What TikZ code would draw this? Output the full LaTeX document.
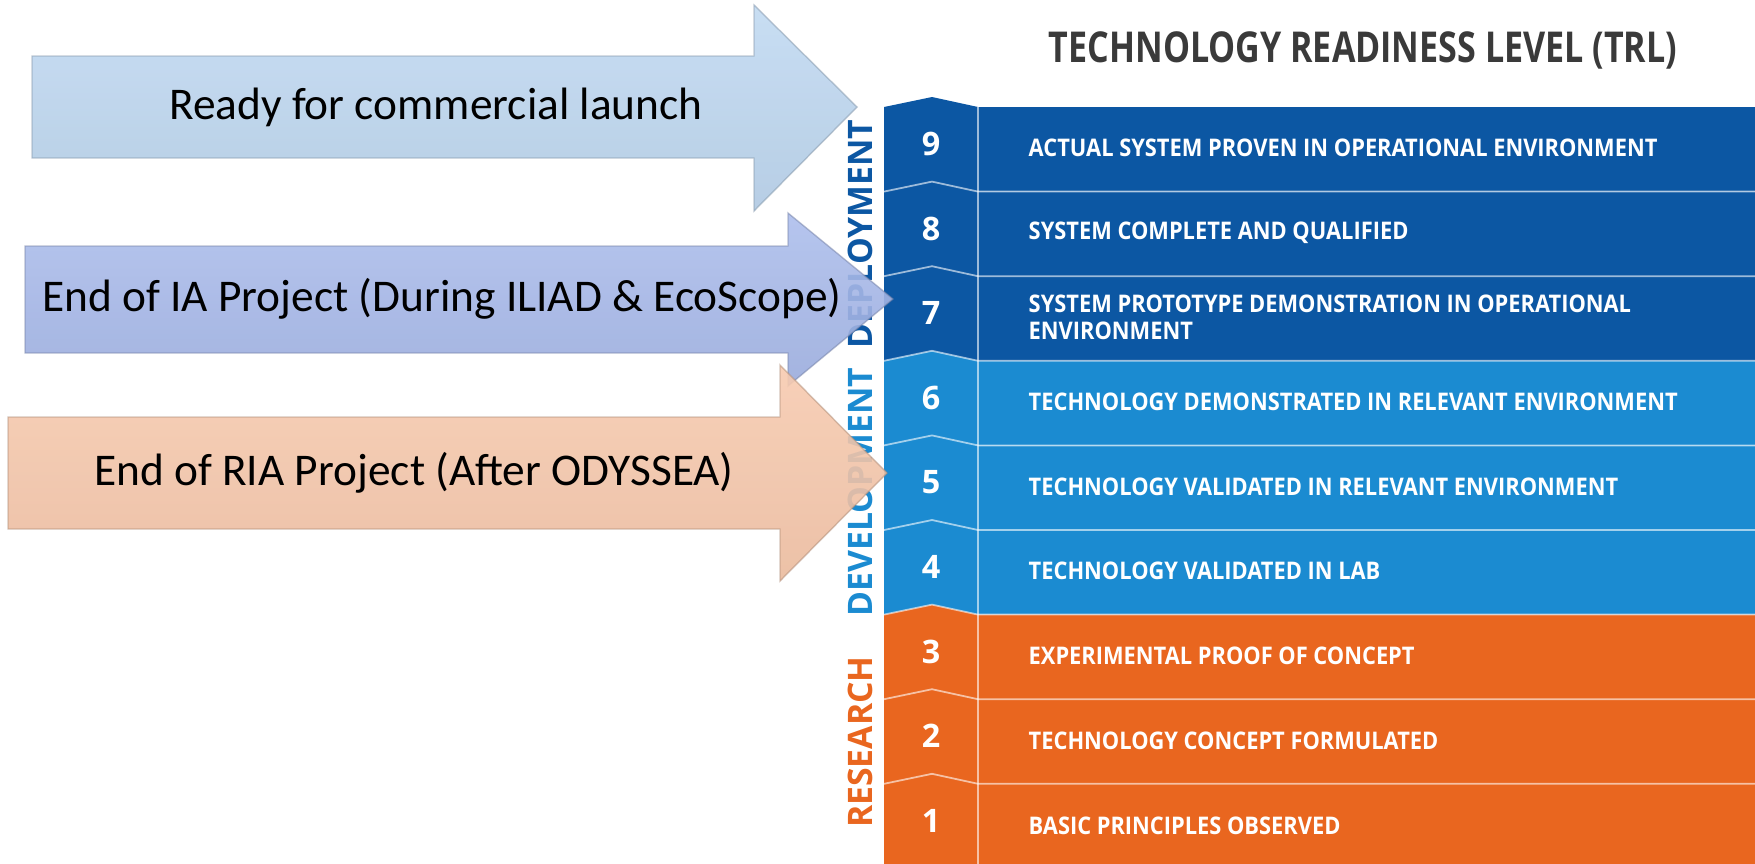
\documentclass[tikz,border=0pt]{standalone}
\usepackage{fontspec}
\setmainfont{Carlito}
\newfontfamily\trlfont{Open Sans}
\newfontfamily\trlcond{Open Sans}[FakeStretch=0.8]
\newfontfamily\trlrow{Open Sans}[FakeStretch=0.9]
\usetikzlibrary{positioning}
\definecolor{deploy}{RGB}{12,87,163}
\definecolor{develop}{RGB}{27,139,209}
\definecolor{research}{RGB}{233,102,31}
\definecolor{titlegray}{RGB}{58,58,58}
\definecolor{launchblue}{RGB}{186,213,240}
\definecolor{iablue}{RGB}{163,182,234}
\definecolor{riapeach}{RGB}{246,196,166}
\tikzset{
  num/.style={font=\trlfont\bfseries\fontsize{9.2}{10}\selectfont, text=white},
  lvl/.style={font=\trlrow\bfseries\fontsize{6.9}{7.7}\selectfont, text=white, anchor=west, align=left, inner sep=0pt},
  phase/.style={font=\trlfont\bfseries\fontsize{9.6}{10}\selectfont, rotate=90},
  sep/.style={white, opacity=0.6, line width=0.5pt},
  goal/.style={fill opacity=0.9, draw opacity=0.5, line width=0.4pt},
  goaltext/.style={font=\fontsize{12.9}{14}\selectfont, text=black},
}
\begin{document}
\begin{tikzpicture}[x=0.01cm, y=-0.01cm]
    \useasboundingbox (0,0) rectangle (1755,863);

    % bands, drawn top down so each chevron covers the row above
    \foreach \k/\c in {9/deploy,8/deploy,7/deploy,6/develop,5/develop,4/develop,3/research,2/research,1/research}{
      \pgfmathsetmacro\yt{107+(9-\k)*84.6}
      \pgfmathsetmacro\yb{\yt+84.6}
      \fill[\c] (884,\yt) -- (932,\yt-10) -- (978,\yt) -- (1755,\yt) -- (1755,\yb) -- (884,\yb) -- cycle;
    }
    \foreach \k in {1,...,8}{
      \pgfmathsetmacro\yt{107+(9-\k)*84.6}
      \draw[sep] (884,\yt) -- (932,\yt-10) -- (978,\yt) -- (1755,\yt);
    }
    \draw[sep] (978,107) -- (978,868);

    \node[titlegray, font=\trlcond\bfseries\fontsize{12.1}{13}\selectfont] (title) at (1363,50) {TECHNOLOGY READINESS LEVEL (TRL)};

    \node[num] (n9) at (931,144) {9};
    \node[num] (n8) at (931,229) {8};
    \node[num] (n7) at (931,313) {7};
    \node[num] (n6) at (931,398) {6};
    \node[num] (n5) at (931,482) {5};
    \node[num] (n4) at (931,567) {4};
    \node[num] (n3) at (931,652) {3};
    \node[num] (n2) at (931,736) {2};
    \node[num] (n1) at (931,821) {1};

    \node[lvl] (t9) at (1028,148) {ACTUAL SYSTEM PROVEN IN OPERATIONAL ENVIRONMENT};
    \node[lvl] (t8) at (1028,233) {SYSTEM COMPLETE AND QUALIFIED};
    \node[lvl] (t7) at (1028,317) {SYSTEM PROTOTYPE DEMONSTRATION IN OPERATIONAL\\ENVIRONMENT};
    \node[lvl] (t6) at (1028,402) {TECHNOLOGY DEMONSTRATED IN RELEVANT ENVIRONMENT};
    \node[lvl] (t5) at (1028,487) {TECHNOLOGY VALIDATED IN RELEVANT ENVIRONMENT};
    \node[lvl] (t4) at (1028,571) {TECHNOLOGY VALIDATED IN LAB};
    \node[lvl] (t3) at (1028,656) {EXPERIMENTAL PROOF OF CONCEPT};
    \node[lvl] (t2) at (1028,741) {TECHNOLOGY CONCEPT FORMULATED};
    \node[lvl] (t1) at (1028,826) {BASIC PRINCIPLES OBSERVED};

    \node[phase, deploy] (deployment) at (860,234) {DEPLOYMENT};
    \node[phase, develop] (development) at (860,492) {DEVELOPMENT};
    \node[phase, research] (researchlab) at (860,742) {RESEARCH};

    % project arrows
    \draw[goal, top color=launchblue!88!white, bottom color=launchblue!94!black, draw=launchblue!70!black]
      (32,56) -- (754,56) -- (754,5) -- (857,107) -- (754,211) -- (754,158) -- (32,158) -- cycle;
    \draw[goal, top color=iablue!88!white, bottom color=iablue!94!black, draw=iablue!70!black]
      (25,246) -- (788,246) -- (788,213) -- (893,299) -- (788,386) -- (788,353) -- (25,353) -- cycle;
    \draw[goal, top color=riapeach!88!white, bottom color=riapeach!95!black, draw=riapeach!70!black]
      (8,417) -- (780,417) -- (780,365) -- (887,473) -- (780,581) -- (780,529) -- (8,529) -- cycle;

    \node[goaltext] (launch) at (436,107) {Ready for commercial launch};
    \node[goaltext] (iaend) at (442,299) {End of IA Project (During ILIAD \& EcoScope)};
    \node[goaltext] (riaend) at (414,473) {End of RIA Project (After ODYSSEA)};
\end{tikzpicture}
\end{document}
